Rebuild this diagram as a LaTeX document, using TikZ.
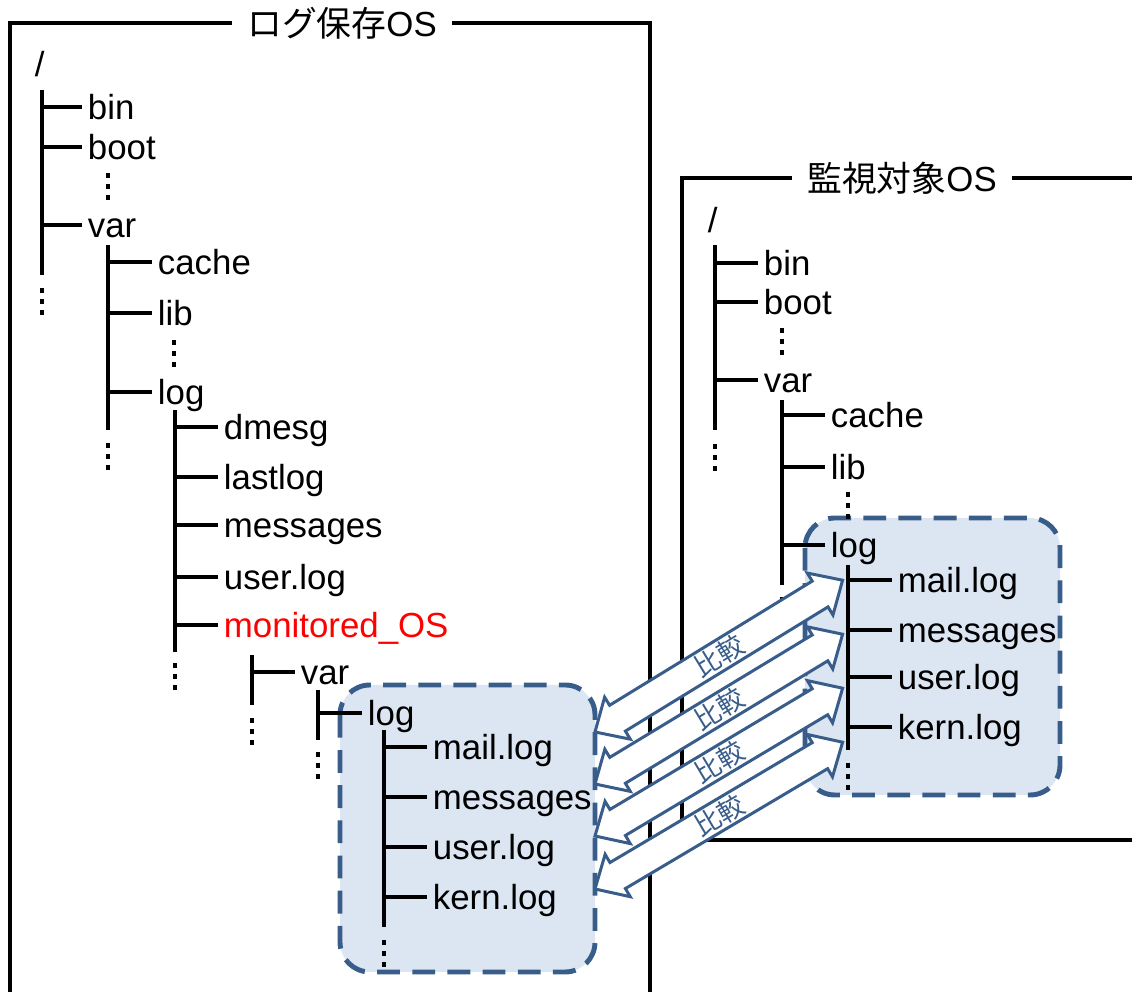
\documentclass[tikz,border=0pt]{standalone}
\usepackage{fontspec}
\setmainfont{Liberation Sans}
\newfontfamily\jp{Noto Sans CJK JP}
\usepackage{tikz}
\usetikzlibrary{calc}
\definecolor{accent}{HTML}{385D8A}
\definecolor{paleblue}{HTML}{DCE6F2}

% double block arrow from #1 to #2, label node named #3
\newcommand\cmparrow[3]{%
  \path let \p1=($(#2)-(#1)$) in \pgfextra{%
    \pgfmathsetmacro\cmpang{atan2(\y1,\x1)}\global\let\cmpang\cmpang
    \pgfmathsetmacro\cmplen{veclen(\x1,\y1)}\global\let\cmplen\cmplen};
  \begin{scope}[shift={(#1)}, rotate=\cmpang]
    \draw[cmp] (0,0) -- (7.5pt,7pt) -- (7.5pt,4.3pt) -- (\cmplen pt-7.5pt,4.3pt)
      -- (\cmplen pt-7.5pt,7pt) -- (\cmplen pt,0) -- (\cmplen pt-7.5pt,-7pt)
      -- (\cmplen pt-7.5pt,-4.3pt) -- (7.5pt,-4.3pt) -- (7.5pt,-7pt) -- cycle;
  \end{scope}
  \node[cmplabel, rotate=\cmpang] (#3) at ($(#1)!0.5!(#2)$) {比較};
}

\begin{document}
\begin{tikzpicture}[
  x=0.01cm, y=-0.01cm,
  osbox/.style={line width=1.2pt},
  title/.style={fill=white, inner xsep=4.2pt, font=\fontsize{9.9}{12}\selectfont},
  logbox/.style={draw=accent, fill=paleblue, line width=1.4pt, dash pattern=on 6.5pt off 3.5pt, rounded corners=8.5pt},
  file/.style={anchor=west, inner xsep=1.5pt, inner ysep=0pt, text height=0.72em, text depth=0pt, font=\fontsize{9.9}{12}\selectfont},
  tree/.style={line width=1.4pt},
  more/.style={line width=1.4pt, dash pattern=on 1.4pt off 1.75pt},
  cmp/.style={draw=accent, fill=white, line width=0.85pt, line join=miter},
  cmplabel/.style={inner sep=0pt, text=accent, font=\jp\fontsize{7.5}{8}\selectfont}
]
\useasboundingbox (0,0) rectangle (1132,992);
\clip (0,0) rectangle (1132,992);

% log storage OS
\draw[osbox] (10,1010) -- (10,23) -- (650,23) -- (650,1010);
\draw[logbox] (340,685) rectangle (595,972);
\node[title] (ltitle) at (342,23) {{\jp ログ保存}OS};

\node[file] (lroot) at (29,64) {/};
\coordinate (l1) at (42,90);
\node[file] (lbin) at (82,107) {bin};
\node[file] (lboot) at (82,147) {boot};
\node[file] (lvar) at (82,225) {var};
\draw[tree] (l1) -- ++(0,185);
\foreach \n in {lbin,lboot,lvar} \draw[tree] (\n.west -| l1) -- (\n.west);
\draw[more] (108,173) -- ++(0,27);
\draw[more] (42,288) -- ++(0,27);

\coordinate (l2) at (108,245);
\node[file] (lcache) at (152,262) {cache};
\node[file] (llib) at (152,313) {lib};
\node[file] (llog) at (152,392) {log};
\draw[tree] (l2) -- ++(0,185);
\foreach \n in {lcache,llib,llog} \draw[tree] (\n.west -| l2) -- (\n.west);
\draw[more] (174,340) -- ++(0,27);
\draw[more] (108,443) -- ++(0,27);

\coordinate (l3) at (175,410);
\node[file] (ldmesg) at (218,427) {dmesg};
\node[file] (llast) at (218,477) {lastlog};
\node[file] (lmsg) at (218,525) {messages};
\node[file] (luser) at (218,577) {user.log};
\node[file, text=red] (lmon) at (218,625) {monitored\_OS};
\draw[tree] (l3) -- ++(0,242);
\foreach \n in {ldmesg,llast,lmsg,luser,lmon} \draw[tree] (\n.west -| l3) -- (\n.west);
\draw[more] (175,663) -- ++(0,27);

\coordinate (l4) at (252,655);
\node[file] (mvar) at (295,672) {var};
\draw[tree] (l4) -- ++(0,50);
\draw[tree] (mvar.west -| l4) -- (mvar.west);
\draw[more] (252,718) -- ++(0,27);

\coordinate (l5) at (318,690);
\node[file] (mlog) at (362,713) {log};
\draw[tree] (l5) -- ++(0,50);
\draw[tree] (mlog.west -| l5) -- (mlog.west);
\draw[more] (318,752) -- ++(0,27);

\coordinate (l6) at (384,730);
\node[file] (mmail) at (427,747) {mail.log};
\node[file] (mmsg) at (427,797) {messages};
\node[file] (muser) at (427,847) {user.log};
\node[file] (mkern) at (427,897) {kern.log};
\draw[tree] (l6) -- ++(0,197);
\foreach \n in {mmail,mmsg,muser,mkern} \draw[tree] (\n.west -| l6) -- (\n.west);
\draw[more] (384,940) -- ++(0,27);

% monitored OS
\draw[osbox] (1150,178) -- (682,178) -- (682,840) -- (1150,840);
\draw[logbox] (805,518) rectangle (1060,795);
\node[title] (rtitle) at (902,178) {{\jp 監視対象}OS};

\node[file] (rroot) at (702,220) {/};
\coordinate (r1) at (715,245);
\node[file] (rbin) at (758,263) {bin};
\node[file] (rboot) at (758,302) {boot};
\node[file] (rvar) at (758,380) {var};
\draw[tree] (r1) -- ++(0,185);
\foreach \n in {rbin,rboot,rvar} \draw[tree] (\n.west -| r1) -- (\n.west);
\draw[more] (782,328) -- ++(0,27);
\draw[more] (715,444) -- ++(0,27);

\coordinate (r2) at (782,400);
\node[file] (rcache) at (825,415) {cache};
\node[file] (rlib) at (825,467) {lib};
\node[file] (rlog) at (825,545) {log};
\draw[tree] (r2) -- ++(0,185);
\foreach \n in {rcache,rlib,rlog} \draw[tree] (\n.west -| r2) -- (\n.west);
\draw[more] (848,492) -- ++(0,27);
\draw[more] (782,597) -- ++(0,27);

\coordinate (r3) at (848,565);
\node[file] (rmail) at (892,580) {mail.log};
\node[file] (rmsg) at (892,630) {messages};
\node[file] (ruser) at (892,677) {user.log};
\node[file] (rkern) at (892,727) {kern.log};
\draw[tree] (r3) -- ++(0,185);
\foreach \n in {rmail,rmsg,ruser,rkern} \draw[tree] (\n.west -| r3) -- (\n.west);
\draw[more] (848,763) -- ++(0,27);

% comparison arrows
\coordinate (c1l) at (595,732); \coordinate (c1r) at (843,580);
\coordinate (c2l) at (595,784); \coordinate (c2r) at (843,634);
\coordinate (c3l) at (595,836); \coordinate (c3r) at (843,688);
\coordinate (c4l) at (595,889); \coordinate (c4r) at (843,742);
\cmparrow{c1l}{c1r}{cmp1}
\cmparrow{c2l}{c2r}{cmp2}
\cmparrow{c3l}{c3r}{cmp3}
\cmparrow{c4l}{c4r}{cmp4}
\end{tikzpicture}
\end{document}
